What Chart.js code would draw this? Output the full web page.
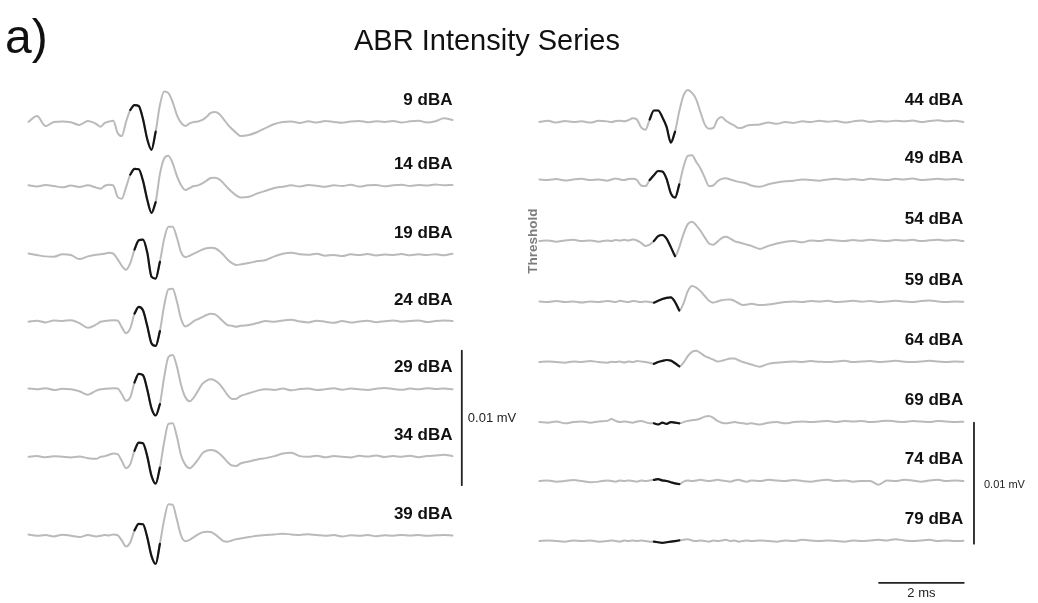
<!DOCTYPE html>
<html lang="en">
<head>
  <meta charset="UTF-8">
  <title>ABR Intensity Series</title>
  <script src="https://cdn.jsdelivr.net/npm/chart.js"></script>
  <style>
    body {
      margin: 0;
      background: #ffffff;
      font-family: "Liberation Sans", Arial, sans-serif;
      color: #111;
    }
    .wrap {
      position: relative;
      width: 1038px;
      height: 603px;
      overflow: hidden;
    }
    #abrChart {
      position: absolute;
      left: 0;
      top: 0;
    }
    .panel-tag {
      position: absolute;
      left: 5px;
      top: 13px;
      font-size: 48px;
      line-height: 48px;
    }
    .title {
      position: absolute;
      left: 0;
      width: 974px;
      top: 26px;
      text-align: center;
      font-size: 29px;
      line-height: 29px;
    }
  </style>
</head>
<body>

<div class="wrap">
  <canvas id="abrChart" width="1038" height="603"></canvas>
  <div class="panel-tag">a)</div>
  <div class="title">ABR Intensity Series</div>
</div>

<script>
  // sample times (ms) shared by every trace
  const timesMs = [0, 0.2, 0.4, 0.6, 0.8, 1.0, 1.2, 1.4, 1.6,
    1.7, 1.8, 1.9, 2.0, 2.1, 2.2, 2.3, 2.4, 2.5, 2.6,
    2.7, 2.8, 2.9, 3.0, 3.1, 3.2, 3.3, 3.4, 3.5, 3.6,
    3.7, 3.8, 3.9, 4.0, 4.1, 4.2, 4.3, 4.4, 4.5, 4.6,
    4.7, 4.8, 4.9, 5.0,
    5.2, 5.4, 5.6, 5.8, 6.0, 6.2, 6.4, 6.6, 6.8, 7.0,
    7.2, 7.4, 7.6, 7.8, 8.0, 8.2, 8.4, 8.6, 8.8, 9.0,
    9.2, 9.4, 9.6, 9.8, 10.0];

  const leftLevels = [9, 14, 19, 24, 29, 34, 39];
  const rightLevels = [44, 49, 54, 59, 64, 69, 74, 79];

  // responses in microvolts
  const abr9 = [0.02, 0.44, -0.3, 0.0, 0.04, -0.02, -0.22, 0.07, -0.15, -0.35,
    -0.07, 0.04, 0.1, -0.8, -1.05, 0.0, 0.89, 1.26, 1.19, 0.22,
    -1.26, -2.07, -0.72, 1.26, 2.26, 2.15, 1.48, 0.52, -0.07, -0.3,
    -0.1, 0.0, 0.04, 0.15, 0.39, 0.67, 0.74, 0.59, 0.22, -0.19,
    -0.52, -0.81, -1.04, -0.96, -0.74, -0.44, -0.15, 0.0, 0.04, -0.07,
    0.05, -0.04, 0.07, 0.0, -0.06, 0.04, 0.08, -0.02, 0.06, 0.0,
    0.07, -0.04, 0.05, 0.09, -0.03, 0.06, 0.27, 0.15];
  const abr14 = [0.05, -0.04, 0.07, 0.0, -0.1, 0.04, -0.07, 0.05, -0.12, -0.2,
    0.02, 0.1, 0.04, -0.8, -0.95, -0.1, 0.85, 1.28, 1.25, 0.4,
    -1.0, -2.0, -1.2, 0.9, 2.05, 2.25, 1.7, 0.75, 0.05, -0.3,
    -0.15, 0.0, 0.05, 0.2, 0.4, 0.6, 0.62, 0.5, 0.2, -0.15,
    -0.45, -0.7, -0.85, -0.8, -0.55, -0.35, -0.15, -0.05, 0.05, -0.03,
    0.08, 0.02, -0.05, 0.06, 0.0, 0.1, -0.04, 0.05, 0.08, -0.02,
    0.06, 0.1, 0.0, 0.07, 0.04, 0.12, 0.05, 0.08];
  const abr19 = [0.12, 0.0, -0.1, -0.12, 0.05, 0.0, -0.3, -0.1, 0.02, 0.05,
    0.1, 0.17, 0.1, -0.3, -0.8, -1.1, -0.6, 0.4, 1.1, 1.15,
    0.2, -1.6, -1.75, -0.5, 1.2, 2.1, 2.1, 1.3, 0.2, -0.15,
    -0.05, 0.1, 0.25, 0.4, 0.5, 0.55, 0.5, 0.3, 0.0, -0.35,
    -0.6, -0.74, -0.7, -0.6, -0.45, -0.37, -0.1, 0.1, 0.17, 0.05,
    0.02, 0.1, -0.05, 0.0, -0.08, 0.05, 0.0, 0.08, -0.03, 0.04,
    0.0, 0.07, -0.02, 0.05, 0.0, 0.06, -0.02, 0.1];
  const abr24 = [0.0, 0.08, -0.05, 0.1, 0.05, 0.12, -0.1, -0.45, -0.2, 0.0,
    0.05, 0.1, 0.12, 0.1, -0.4, -0.85, -0.5, 0.6, 1.1, 0.85,
    -0.3, -1.6, -1.8, -0.7, 1.2, 2.4, 2.45, 1.5, 0.2, -0.35,
    -0.2, 0.05, 0.2, 0.35, 0.5, 0.6, 0.55, 0.3, 0.0, -0.25,
    -0.3, -0.37, -0.3, -0.25, -0.1, 0.05, 0.0, 0.1, 0.15, 0.02,
    -0.05, 0.08, 0.0, -0.08, 0.05, -0.05, 0.02, 0.07, -0.03, 0.04,
    0.1, 0.0, 0.05, 0.1, -0.02, 0.06, 0.1, 0.05];
  const abr29 = [0.05, 0.0, 0.08, -0.05, 0.03, 0.0, -0.15, -0.4, -0.1, 0.0,
    0.03, 0.05, 0.08, 0.06, -0.35, -0.85, -0.6, 0.5, 1.15, 1.05,
    0.0, -1.4, -1.95, -1.1, 0.9, 2.4, 2.55, 1.7, 0.3, -0.6,
    -0.9, -0.6, -0.1, 0.4, 0.65, 0.74, 0.65, 0.4, 0.0, -0.45,
    -0.72, -0.7, -0.5, -0.3, -0.1, 0.0, -0.05, 0.05, -0.08, 0.02,
    0.06, -0.05, 0.0, 0.08, -0.03, 0.05, 0.0, -0.06, 0.04, 0.1,
    0.02, -0.04, 0.05, 0.0, 0.08, 0.02, 0.05, 0.0];
  const abr34 = [0.0, 0.05, -0.03, 0.04, 0.0, -0.05, 0.02, -0.1, -0.15, 0.0,
    0.05, 0.15, 0.25, 0.2, -0.3, -0.85, -0.55, 0.45, 1.05, 1.0,
    0.05, -1.4, -2.0, -0.8, 1.1, 2.45, 2.5, 1.5, 0.1, -0.6,
    -0.85, -0.6, -0.2, 0.25, 0.45, 0.5, 0.45, 0.25, -0.05, -0.4,
    -0.65, -0.68, -0.5, -0.35, -0.2, -0.1, 0.05, 0.25, 0.3, 0.05,
    0.0, 0.08, -0.04, 0.05, 0.0, -0.05, 0.07, 0.02, 0.1, -0.02,
    0.05, 0.0, 0.07, -0.03, 0.05, 0.1, 0.15, 0.05];
  const abr39 = [0.1, 0.0, 0.05, -0.05, 0.08, 0.0, -0.1, 0.05, -0.05, 0.0,
    0.05, 0.02, 0.1, 0.05, -0.35, -0.8, -0.5, 0.4, 0.88, 0.85,
    -0.1, -1.5, -2.1, -0.6, 1.2, 2.35, 2.3, 1.2, 0.0, -0.4,
    -0.3, -0.1, 0.1, 0.25, 0.3, 0.28, 0.1, -0.15, -0.4, -0.44,
    -0.35, -0.25, -0.2, -0.1, 0.0, 0.05, 0.1, 0.15, 0.1, 0.05,
    0.12, 0.05, 0.0, 0.05, -0.05, 0.03, 0.0, 0.05, -0.03, 0.04,
    0.0, 0.06, 0.02, 0.05, 0.0, 0.03, 0.06, 0.02];
  const abr44 = [0.0, 0.1, -0.05, 0.08, 0.0, 0.05, -0.05, 0.1, 0.05, 0.0,
    0.08, 0.1, 0.05, 0.15, 0.3, 0.2, -0.45, -0.65, 0.2, 0.95,
    0.95, 0.4, -0.4, -1.7, -0.8, 0.9, 2.2, 2.65, 2.4, 1.85,
    0.8, -0.2, -0.55, -0.5, 0.2, 0.42, 0.1, -0.12, -0.3, -0.5,
    -0.45, -0.3, -0.25, -0.2, -0.05, -0.15, 0.0, -0.08, 0.05, 0.0,
    0.1, 0.02, 0.08, -0.05, 0.05, 0.12, 0.0, 0.08, 0.04, 0.1,
    0.05, 0.12, 0.0, 0.08, 0.15, 0.05, 0.1, 0.0];
  const abr49 = [0.05, 0.0, 0.08, -0.03, 0.05, 0.1, 0.0, 0.05, -0.05, 0.05,
    0.12, 0.05, 0.0, 0.08, 0.1, 0.0, -0.45, -0.5, 0.0, 0.4,
    0.75, 0.7, 0.1, -1.1, -1.45, -0.35, 1.1, 2.0, 2.05, 1.5,
    0.95, 0.2, -0.5, -0.45, -0.1, 0.1, 0.15, 0.05, -0.05, -0.15,
    -0.2, -0.3, -0.45, -0.55, -0.35, -0.2, -0.1, -0.05, 0.05, 0.0,
    -0.05, 0.05, 0.1, 0.02, 0.08, 0.0, 0.1, 0.05, 0.0, 0.1,
    0.05, 0.12, 0.0, 0.05, 0.1, 0.05, 0.08, 0.0];
  const abr54 = [0.0, 0.05, -0.05, 0.05, 0.1, 0.0, 0.05, -0.05, 0.05, 0.0,
    0.08, 0.05, 0.1, 0.05, 0.12, 0.05, -0.15, -0.4, -0.3, 0.0,
    0.4, 0.5, 0.2, -0.5, -1.25, -0.5, 0.6, 1.4, 1.6, 1.3,
    0.85, 0.3, -0.2, -0.3, -0.05, 0.25, 0.36, 0.2, 0.0, -0.1,
    -0.2, -0.3, -0.4, -0.65, -0.4, -0.2, -0.05, 0.0, -0.1, 0.05,
    0.0, 0.1, 0.05, 0.0, 0.08, 0.02, 0.1, 0.05, 0.0, 0.08,
    0.05, 0.1, 0.0, 0.06, 0.1, 0.05, 0.08, 0.0];
  const abr59 = [0.05, 0.0, 0.08, 0.0, 0.05, -0.03, 0.05, 0.0, 0.08, 0.05,
    0.0, 0.1, 0.05, 0.0, 0.08, 0.05, 0.0, 0.05, 0.0, -0.05,
    0.1, 0.25, 0.35, 0.38, 0.0, -0.7, -0.1, 0.9, 1.33, 1.2,
    0.9, 0.5, 0.1, -0.05, 0.05, 0.15, 0.2, 0.22, 0.1, -0.1,
    -0.25, -0.2, -0.15, -0.25, -0.2, -0.1, 0.0, 0.05, 0.0, 0.08,
    0.05, 0.1, 0.0, 0.05, 0.1, 0.03, 0.08, 0.0, 0.05, 0.1,
    0.05, 0.0, 0.08, 0.12, 0.05, 0.0, 0.05, 0.02];
  const abr64 = [0.0, 0.05, 0.0, -0.05, 0.05, 0.0, 0.08, 0.0, -0.05, 0.03,
    0.0, 0.05, -0.03, 0.05, 0.0, 0.08, 0.05, 0.0, -0.05, -0.15,
    0.0, 0.1, 0.17, 0.12, -0.1, -0.35, -0.05, 0.5, 0.85, 0.94,
    0.75, 0.5, 0.35, 0.2, 0.05, 0.1, 0.2, 0.3, 0.3, 0.15,
    0.0, -0.1, -0.2, -0.38, -0.15, -0.05, 0.0, 0.05, 0.0, 0.08,
    0.03, 0.0, 0.05, 0.1, 0.0, 0.05, 0.08, 0.0, 0.05, 0.1,
    0.03, 0.0, 0.05, 0.1, 0.05, 0.0, 0.05, 0.02];
  const abr69 = [0.0, -0.05, 0.05, -0.1, 0.0, 0.05, -0.05, 0.05, 0.1, 0.25,
    0.1, 0.0, 0.05, 0.0, -0.05, 0.05, 0.1, 0.0, -0.1, -0.1,
    -0.2, -0.05, -0.15, 0.0, -0.05, -0.1, 0.0, 0.1, 0.15, 0.2,
    0.3, 0.45, 0.5, 0.35, 0.1, -0.05, -0.1, -0.05, 0.0, -0.05,
    -0.1, -0.15, -0.1, -0.2, -0.05, 0.0, -0.1, 0.0, 0.05, 0.0,
    0.05, 0.1, 0.0, 0.08, 0.05, 0.1, 0.0, 0.05, 0.12, 0.05,
    0.0, 0.08, 0.05, 0.0, 0.1, 0.05, 0.0, 0.03];
  const abr74 = [0.0, 0.05, -0.05, 0.0, 0.08, 0.0, -0.1, -0.05, 0.05, 0.0,
    -0.05, 0.05, 0.0, 0.05, 0.0, -0.05, 0.05, 0.0, 0.05, 0.1,
    0.15, 0.05, 0.0, -0.1, -0.2, -0.25, -0.05, 0.05, 0.0, 0.05,
    0.1, 0.05, 0.0, 0.05, 0.1, 0.05, 0.0, -0.05, 0.05, 0.1,
    0.0, -0.05, 0.05, 0.0, 0.1, 0.05, 0.0, 0.08, 0.0, -0.05,
    0.05, 0.1, 0.0, 0.05, -0.05, 0.0, 0.0, -0.3, 0.05, 0.0,
    0.1, 0.05, -0.05, 0.05, 0.1, 0.0, 0.05, 0.0];
  const abr79 = [0.0, 0.05, 0.0, -0.05, 0.05, 0.0, 0.05, -0.05, 0.0, 0.05,
    0.0, -0.05, 0.05, 0.0, 0.05, 0.0, 0.05, 0.0, -0.05, -0.05,
    -0.1, -0.15, -0.1, -0.05, 0.0, 0.05, 0.1, 0.15, 0.05, 0.0,
    0.05, 0.0, -0.05, 0.05, 0.0, 0.05, 0.1, 0.0, 0.05, -0.05,
    0.0, 0.05, 0.0, 0.05, 0.0, -0.05, 0.05, 0.0, 0.1, 0.05,
    0.0, 0.05, 0.0, -0.05, 0.05, 0.0, 0.05, 0.1, 0.05, 0.15,
    0.05, 0.0, 0.05, 0.1, 0.0, 0.05, 0.0, 0.02];

  const leftTraces = [abr9, abr14, abr19, abr24, abr29, abr34, abr39];
  const rightTraces = [abr44, abr49, abr54, abr59, abr64, abr69, abr74, abr79];

  // marked wave window (black part of each trace), ms
  const leftMarkStart = [2.4, 2.4, 2.5, 2.5, 2.5, 2.5, 2.5];
  const leftMarkEnd = [3.0, 3.0, 3.1, 3.1, 3.1, 3.1, 3.1];
  const rightMarkStart = [2.6, 2.6, 2.7, 2.7, 2.7, 2.7, 2.7, 2.7];
  const rightMarkEnd = [3.2, 3.3, 3.2, 3.3, 3.3, 3.3, 3.3, 3.3];

  // ---- layout ----
  const rightShiftMs = 12.05;          // second column starts here on the time axis
  const leftRowOffset = [9.07, 13.83, 18.96, 23.92, 28.94, 33.96, 39.83];   // uV below top
  const rightRowOffset = [10.08, 14.88, 19.92, 24.96, 29.92, 34.88, 39.75, 44.71];
  const grey = '#bababa';
  const ink = '#151515';

  function traceData(values, shiftMs, offset) {
    return values.map((v, i) => ({ x: timesMs[i] + shiftMs, y: v - offset }));
  }

  function markData(values, shiftMs, offset, from, to) {
    const pts = [];
    values.forEach((v, i) => {
      const t = timesMs[i];
      if (t >= from - 1e-6 && t <= to + 1e-6) pts.push({ x: t + shiftMs, y: v - offset });
    });
    return pts;
  }

  const datasets = [];

  leftTraces.forEach((vals, i) => {
    datasets.push({ data: markData(vals, 0, leftRowOffset[i], leftMarkStart[i], leftMarkEnd[i]),
      yAxisID: 'yL', borderColor: ink, borderWidth: 2.2, order: 0 });
    datasets.push({ data: traceData(vals, 0, leftRowOffset[i]),
      yAxisID: 'yL', borderColor: grey, borderWidth: 2, order: 1 });
  });
  rightTraces.forEach((vals, i) => {
    datasets.push({ data: markData(vals, rightShiftMs, rightRowOffset[i], rightMarkStart[i], rightMarkEnd[i]),
      yAxisID: 'yR', borderColor: ink, borderWidth: 2.2, order: 0 });
    datasets.push({ data: traceData(vals, rightShiftMs, rightRowOffset[i]),
      yAxisID: 'yR', borderColor: grey, borderWidth: 2, order: 1 });
  });

  // scale bars: 0.01 mV = 10 uV, 2 ms
  const leftBar = { x: 10.22, top: 26.07 };
  const rightBar = { x: 22.30, top: 34.93 };
  const timeBar = { from: 20.06, y: 48.16 };
  datasets.push({ data: [{ x: leftBar.x, y: -leftBar.top }, { x: leftBar.x, y: -leftBar.top - 10 }],
    yAxisID: 'yL', borderColor: '#222', borderWidth: 1.8, order: 0 });
  datasets.push({ data: [{ x: rightBar.x, y: -rightBar.top }, { x: rightBar.x, y: -rightBar.top - 10 }],
    yAxisID: 'yR', borderColor: '#222', borderWidth: 1.8, order: 0 });
  datasets.push({ data: [{ x: timeBar.from, y: -timeBar.y }, { x: timeBar.from + 2, y: -timeBar.y }],
    yAxisID: 'yR', borderColor: '#222', borderWidth: 1.8, order: 0 });

  const labelPlugin = {
    id: 'abrLabels',
    afterDatasetsDraw(chart) {
      const { ctx, scales } = chart;
      const x = scales.x, yL = scales.yL, yR = scales.yR;
      ctx.save();
      ctx.fillStyle = '#111';
      ctx.font = 'bold 17px "Liberation Sans", Arial, sans-serif';
      ctx.textAlign = 'right';
      ctx.textBaseline = 'alphabetic';
      leftLevels.forEach((lvl, i) => {
        ctx.fillText(lvl + ' dBA', x.getPixelForValue(10), yL.getPixelForValue(-leftRowOffset[i]) - 17);
      });
      rightLevels.forEach((lvl, i) => {
        ctx.fillText(lvl + ' dBA', x.getPixelForValue(10 + rightShiftMs), yR.getPixelForValue(-rightRowOffset[i]) - 17);
      });

      ctx.textAlign = 'left';
      ctx.fillStyle = '#222';
      ctx.font = '13px "Liberation Sans", Arial, sans-serif';
      let mid = (yL.getPixelForValue(-leftBar.top) + yL.getPixelForValue(-leftBar.top - 10)) / 2;
      ctx.fillText('0.01 mV', x.getPixelForValue(leftBar.x) + 6, mid + 4);

      ctx.font = '11px "Liberation Sans", Arial, sans-serif';
      mid = (yR.getPixelForValue(-rightBar.top) + yR.getPixelForValue(-rightBar.top - 10)) / 2;
      ctx.fillText('0.01 mV', x.getPixelForValue(rightBar.x) + 10, mid + 5);

      ctx.textAlign = 'center';
      ctx.font = '13px "Liberation Sans", Arial, sans-serif';
      ctx.fillText('2 ms', x.getPixelForValue(timeBar.from + 1), yR.getPixelForValue(-timeBar.y) + 14);

      // threshold marker beside the 54 dBA row
      ctx.translate(x.getPixelForValue(rightShiftMs - 0.15), yR.getPixelForValue(-rightRowOffset[2]));
      ctx.rotate(-Math.PI / 2);
      ctx.fillStyle = '#7c7c7c';
      ctx.font = 'bold 13.5px "Liberation Sans", Arial, sans-serif';
      ctx.textBaseline = 'middle';
      ctx.fillText('Threshold', 0, 0);
      ctx.restore();
    }
  };

  const chart = new Chart(document.getElementById('abrChart'), {
    type: 'line',
    data: { datasets: datasets },
    options: {
      responsive: false,
      animation: false,
      devicePixelRatio: 1,
      layout: { padding: 0 },
      elements: {
        point: { radius: 0 },
        line: { cubicInterpolationMode: 'monotone', borderJoinStyle: 'round', borderCapStyle: 'round' }
      },
      plugins: {
        legend: { display: false },
        tooltip: { enabled: false }
      },
      scales: {
        x: { type: 'linear', display: false, min: -0.672, max: 23.81 },
        yL: { type: 'linear', display: false, position: 'left', min: -44.83, max: 0 },
        yR: { type: 'linear', display: false, position: 'right', min: -49.83, max: 0 }
      }
    },
    plugins: [labelPlugin]
  });
</script>
</body>
</html>
